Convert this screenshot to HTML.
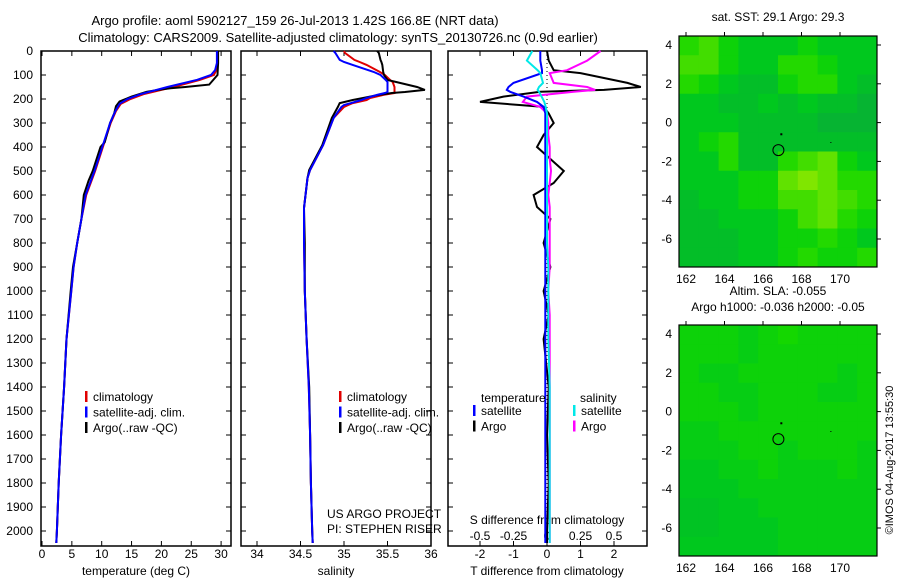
<!DOCTYPE html>
<html><head><meta charset="utf-8"><style>
body{margin:0;background:#fff;width:900px;height:580px;overflow:hidden}
svg{font-family:"Liberation Sans",sans-serif;}
</style></head><body>
<svg id="c" width="900" height="580"></svg>
<script>
// ---------- DATA ----------
const depthT=[0,50,80,100,120,150,180,200,220,250,300,400,500,600,700,800,900,1000,1200,1400,1600,1800,2000,2050];
const climT =[29.4,29.4,29.2,28.8,26.5,22,17,14.8,13.2,12.4,11.5,10.2,8.9,7.4,6.6,5.9,5.3,4.9,4.1,3.7,3.2,2.8,2.5,2.4];
const satT  =[29.3,29.3,29.0,28.3,26,21,16.5,14.3,13,12.3,11.4,10.1,8.8,7.3,6.6,5.9,5.3,4.9,4.1,3.7,3.2,2.8,2.5,2.4];
const depthA=[0,50,100,140,150,155,160,170,190,210,230,260,300,380,400,500,540,600,700,800,900,1000,1200,1400,1600,1800,2000,2050];
const argoT =[29.5,29.5,29.4,28,24,21.5,20,17.5,15,13,12.4,12.1,11.4,10.5,9.8,8.5,7.8,7.0,6.6,5.9,5.2,4.8,4.1,3.7,3.2,2.8,2.5,2.4];
const depthS=[0,8,37,46,58,87,100,121,129,150,162,171,175,183,196,204,217,225,233,279,392,496,529,654,800,1000,1200,1400,1600,1800,2000,2050];
const climS =[35.0,35.01,35.12,35.18,35.26,35.41,35.47,35.53,35.56,35.58,35.58,35.58,35.58,35.45,35.3,35.26,35.1,35.05,35.0,34.88,34.76,34.61,34.58,34.54,34.54,34.55,34.57,34.595,34.61,34.62,34.635,34.64];
const satS  =[34.88,34.9,34.95,35.0,35.1,35.34,35.42,35.48,35.5,35.5,35.5,35.5,35.47,35.38,35.26,35.2,35.08,35.0,34.97,34.88,34.76,34.61,34.58,34.54,34.54,34.55,34.57,34.595,34.61,34.62,34.635,34.64];
const argoS =[35.38,35.4,35.42,35.43,35.44,35.45,35.46,35.5,35.6,35.84,35.93,35.7,35.55,35.4,35.22,35.1,34.95,34.94,34.93,34.86,34.75,34.6,34.58,34.54,34.55,34.55,34.57,34.6,34.61,34.62,34.635,34.64];
const depthD=[0,40,80,92,133,150,162,170,190,212,233,260,300,350,400,450,500,550,600,650,700,800,900,1000,1100,1200,1400,1600,1800,2000,2050];
const dTargo=[0,0.05,0.2,1.0,2.4,2.8,1.7,-0.2,-1.3,-2.0,-0.1,0.05,0.2,-0.1,-0.3,0.1,0.5,0.2,-0.4,-0.3,0.1,-0.1,0.1,-0.1,0.05,-0.1,0.05,0,0.05,0,0];
const dTsat =[-0.2,-0.2,-0.15,-0.15,-1.0,-1.15,-1.2,-1.1,-0.7,-0.3,-0.1,-0.05,-0.05,-0.05,-0.05,-0.05,-0.05,-0.05,-0.05,-0.05,-0.05,-0.05,-0.05,-0.05,-0.05,-0.05,-0.05,-0.05,-0.05,-0.05,-0.05];
const dSargo=[0.4,0.3,0.15,0.02,0.05,0.3,0.36,0.2,-0.15,-0.18,-0.05,0,0.01,0.01,0.02,0.02,0.03,0.02,0.01,0.02,0.02,0.02,0.02,0.01,0.02,0.02,0.02,0.02,0.02,0.02,0.02];
const dSsat =[-0.11,-0.15,-0.07,-0.05,-0.03,-0.06,-0.07,-0.06,-0.04,-0.02,-0.01,0,0,0,0,0,0,0,0,0,0,0,0.01,0.01,0.01,0.01,0.02,0.02,0.02,0.02,0.02];
const depthTicks=[0,100,200,300,400,500,600,700,800,900,1000,1100,1200,1300,1400,1500,1600,1700,1800,1900,2000];
const tTicks=[0,5,10,15,20,25,30];
const sTicks=[34,34.5,35,35.5,36];
const sTickLbl=["34","34.5","35","35.5","36"];
const dtTicks=[-2,-1,0,1,2];
const dsTicks=[-0.5,-0.25,0,0.25,0.5];
const dsTickLbl=["-0.5","-0.25","0","0.25","0.5"];
const lonTicks=[162,164,166,168,170];
const latTicks=[4,2,0,-2,-4,-6];
const sst=[
[.5,.6,.4,.3,.3,.3,.4,.3,.3,.3],
[.6,.6,.4,.3,.3,.5,.5,.4,.3,.3],
[.5,.4,.3,.2,.2,.4,.5,.5,.3,.2],
[.3,.3,.2,.2,.3,.2,.3,.2,.2,.1],
[.3,.3,.3,.2,.2,.2,.2,.1,.1,.1],
[.3,.4,.5,.2,.2,.2,.2,.2,.2,.2],
[.3,.3,.5,.2,.2,.5,.6,.7,.4,.3],
[.3,.3,.3,.4,.4,.7,.8,.7,.5,.5],
[.2,.3,.3,.4,.4,.6,.6,.7,.6,.5],
[.2,.2,.3,.3,.3,.4,.6,.7,.5,.4],
[.2,.2,.2,.3,.3,.4,.4,.5,.4,.3],
[.2,.2,.2,.3,.3,.4,.5,.4,.4,.5]];
const sla=[
[.4,.4,.4,.35,.4,.45,.4,.4,.4,.4],
[.4,.4,.4,.35,.4,.4,.4,.4,.4,.4],
[.4,.35,.35,.4,.4,.4,.4,.4,.35,.4],
[.4,.4,.35,.35,.4,.4,.4,.35,.35,.4],
[.4,.4,.4,.35,.4,.4,.4,.4,.4,.4],
[.35,.35,.4,.4,.4,.4,.4,.4,.4,.4],
[.35,.35,.35,.4,.4,.35,.4,.4,.4,.35],
[.3,.3,.35,.35,.4,.35,.35,.35,.4,.35],
[.3,.3,.3,.35,.35,.35,.35,.35,.35,.35],
[.25,.25,.3,.3,.35,.35,.35,.35,.35,.35],
[.25,.25,.3,.3,.3,.35,.35,.35,.35,.35],
[.3,.3,.3,.3,.3,.35,.35,.35,.35,.35]];
// ---------- DRAW ----------
const S=document.getElementById('c'),NS='http://www.w3.org/2000/svg';
function el(t,a,txt){const e=document.createElementNS(NS,t);for(const k in a)e.setAttribute(k,a[k]);if(txt!==undefined)e.textContent=txt;S.appendChild(e);return e;}
function text(x,y,s,anchor,size,name){const e=el('text',{x:x,y:y,'text-anchor':anchor||'middle','font-size':size||12,fill:'#000'},s);

return e;}
const Y0=51,Y1=546;const yD=d=>Y0+d*0.24;
function panel(x0,x1,name){const r=el('rect',{x:x0,y:Y0,width:x1-x0,height:Y1-Y0,fill:'none',stroke:'#000','stroke-width':1.5});


depthTicks.forEach(d=>{el('line',{x1:x0,x2:x0+5,y1:yD(d),y2:yD(d),stroke:'#000'});el('line',{x1:x1,x2:x1-5,y1:yD(d),y2:yD(d),stroke:'#000'});});}
function line(xs,ds,fx,col,name,w){const p=xs.map((v,i)=>fx(v).toFixed(1)+','+yD(ds[i]).toFixed(1)).join(' ');
const e=el('polyline',{points:p,fill:'none',stroke:col,'stroke-width':w||2});

}
function xticks(vals,lbls,fx,ly){vals.forEach((v,i)=>{el('line',{x1:fx(v),x2:fx(v),y1:Y1,y2:Y1-5,stroke:'#000'});el('line',{x1:fx(v),x2:fx(v),y1:Y0,y2:Y0+5,stroke:'#000'});text(fx(v),ly,lbls[i],'middle',12,'x-tick-label');});}
// titles
text(295,25,'Argo profile: aoml 5902127_159 26-Jul-2013 1.42S 166.8E (NRT data)','middle',13,'title-line-1');
text(338,42,'Climatology: CARS2009. Satellite-adjusted climatology: synTS_20130726.nc (0.9d earlier)','middle',13,'title-line-2');
// panel 1
const xT=v=>42+v*5.97;
panel(41,231,'temperature-panel');
depthTicks.forEach(d=>text(33,yD(d)+4,String(d),'end',12,'y-tick-label'));
xticks(tTicks,tTicks.map(String),xT,558);
text(136,575,'temperature (deg C)','middle',12,'x-axis-title');
line(climT,depthT,xT,'#e00000','climatology-temperature');
line(argoT,depthA,xT,'#000','argo-temperature');
line(satT,depthT,xT,'#0000ff','satellite-temperature');
function legend(x,y,items){items.forEach((it,i)=>{el('rect',{x:x,y:y+i*15.5-6,width:2.5,height:11,fill:it[0]});text(x+8,y+i*15.5+4,it[1],'start',12,'legend-entry');});}
legend(85,397,[['#e00000','climatology'],['#0000ff','satellite-adj. clim.'],['#000','Argo(..raw -QC)']]);
// panel 2
const xS=v=>257+(v-34)*87;
panel(241,431,'salinity-panel');
xticks(sTicks,sTickLbl,xS,558);
text(336,575,'salinity','middle',12,'x-axis-title');
line(climS,depthS,xS,'#e00000','climatology-salinity');
line(argoS,depthS,xS,'#000','argo-salinity');
line(satS,depthS,xS,'#0000ff','satellite-salinity');
legend(339,397,[['#e00000','climatology'],['#0000ff','satellite-adj. clim.'],['#000','Argo(..raw -QC)']]);
text(327,518,'US ARGO PROJECT','start',12,'project-label');
text(327,533,'PI: STEPHEN RISER','start',12,'pi-label');
// panel 3
const xDT=v=>547+v*33.5, xDS=v=>547+v*134;
panel(448,647,'difference-panel');
xticks(dtTicks,dtTicks.map(String),xDT,558);
dsTicks.forEach((v,i)=>text(xDS(v),540,dsTickLbl[i],'middle',12,'s-diff-tick-label'));
text(547,524,'S difference from climatology','middle',12,'s-diff-axis-title');
text(547,575,'T difference from climatology','middle',12,'x-axis-title');
el('line',{x1:547,x2:547,y1:Y0,y2:Y1,stroke:'#000','stroke-dasharray':'1,3'});
line(dTargo,depthD,xDT,'#000','argo-t-difference');
line(dSargo,depthD,xDS,'#ff00ff','argo-s-difference');
line(dTsat,depthD,xDT,'#0000ff','satellite-t-difference');
line(dSsat,depthD,xDS,'#00e8e8','satellite-s-difference');
text(481,402,'temperature','start',12,'legend-title');
text(580,402,'salinity','start',12,'legend-title');
legend(473,411,[['#0000ff','satellite'],['#000','Argo']]);
legend(573,411,[['#00e8e8','satellite'],['#ff00ff','Argo']]);
// maps
function lerp(a,b,t){return a.map((x,i)=>x+(b[i]-x)*t);}
function col(v){const P=[[0,[10,170,60]],[0.3,[0,200,30]],[0.45,[20,215,0]],[1,[190,240,0]]];
let c=P[0][1];for(let i=1;i<P.length;i++){if(v<=P[i][0]){c=lerp(P[i-1][1],P[i][1],(v-P[i-1][0])/(P[i][0]-P[i-1][0]));break;}c=P[i][1];}
return `rgb(${c[0]|0},${c[1]|0},${c[2]|0})`;}
function map(y0,grid,name,title1,title2){
const x0=679,x1=877,y1=y0+231,lon=v=>686+(v-162)*19.25,lat=v=>y0+9+(4-v)*19.4;
const rows=grid.length,cols=grid[0].length,cw=(x1-x0)/cols,ch=(y1-y0)/rows;
grid.forEach((row,i)=>row.forEach((v,j)=>{const c=el('rect',{x:x0+j*cw,y:y0+i*ch,width:cw+0.5,height:ch+0.5,fill:col(v)});

}));
const f=el('rect',{x:x0,y:y0,width:x1-x0,height:y1-y0,fill:'none',stroke:'#000','stroke-width':1.2});


lonTicks.forEach(v=>{el('line',{x1:lon(v),x2:lon(v),y1:y0,y2:y0-4,stroke:'#000'});text(lon(v),y1+16,String(v),'middle',12,'lon-tick-label');});
latTicks.forEach(v=>{el('line',{x1:x1,x2:x1+4,y1:lat(v),y2:lat(v),stroke:'#000'});text(672,lat(v)+4,String(v),'end',12,'lat-tick-label');});
const c=el('circle',{cx:lon(166.8),cy:lat(-1.42),r:5.5,fill:'none',stroke:'#000'});


el('rect',{x:lon(166.9),y:lat(-0.55),width:2,height:2,fill:'#000'});
el('rect',{x:lon(169.5),y:lat(-1.0),width:1,height:1,fill:'#000'});
if(title1)text(778,y0-15-(title2?15:0),title1,'middle',12,'map-title');
if(title2)text(778,y0-14,title2,'middle',12,'map-title');}
map(36,sst,'sst-map','sat. SST: 29.1  Argo: 29.3');
map(325,sla,'sla-map','Altim. SLA: -0.055','Argo h1000: -0.036 h2000: -0.05');
const cp=text(0,0,'©IMOS 04-Aug-2017 13:55:30','middle',11,'copyright');
cp.setAttribute('transform','translate(893,460) rotate(-90)');
</script>
</body></html>
